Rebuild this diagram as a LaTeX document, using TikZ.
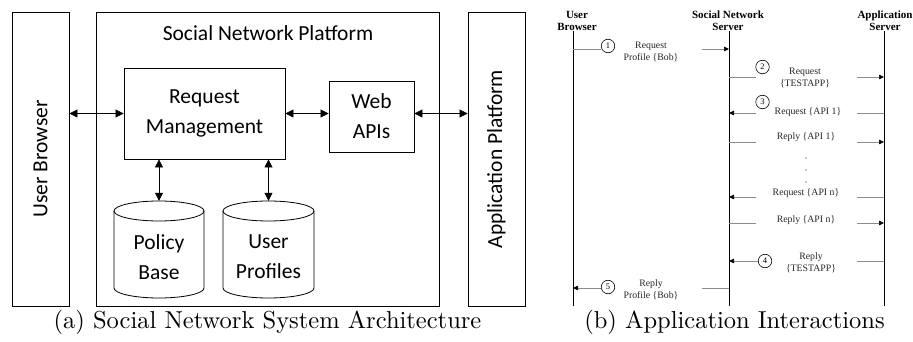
\documentclass[tikz,border=0pt]{standalone}
\usepackage{fontspec}
\usetikzlibrary{arrows.meta}
\newfontfamily\calfont{Carlito}
\newfontfamily\timesfont{Liberation Serif}
\newcommand\cfnt{\calfont\fontsize{21.5}{30}\selectfont}
\newcommand\tmsm{\timesfont\fontsize{9.8}{12}\selectfont}
\newcommand\tmhd{\timesfont\bfseries\fontsize{11}{12}\selectfont}
\newcommand\capt[1]{\scalebox{2.45}{\fontsize{10}{12}\selectfont #1}}
\begin{document}
\begin{tikzpicture}[x=1pt,y=-1pt,
  box/.style={draw, line width=0.8pt, inner sep=0pt},
  dbl/.style={line width=0.6pt, {Triangle[length=8pt,width=8pt]}-{Triangle[length=8pt,width=8pt]}},
  ctext/.style={font=\cfnt, align=center, inner sep=0pt},
  life/.style={line width=0.8pt},
  msg/.style={draw=black!45, line width=0.6pt},
  msgr/.style={msg, -{Triangle[length=5pt,width=4.5pt,fill=black,color=black]}},
  stxt/.style={font=\tmsm, align=center, inner sep=0pt, text=black!85},
  hd/.style={font=\tmhd, align=center, inner sep=0pt},
  num/.style={draw, circle, line width=0.6pt, minimum size=13.5pt, inner sep=0pt, font=\timesfont\fontsize{8.5}{10}\selectfont},
]
\useasboundingbox (0,0) rectangle (913,342);

% ---------------- (a) ----------------
\node[box, minimum width=57, minimum height=294] (ub) at (40.5,159) {};
\node[ctext, rotate=90] (ubt) at (ub) {User Browser};
\node[box, minimum width=343, minimum height=294] (snp) at (267.5,159) {};
\node[ctext] (snpt) at (268,33) {Social Network Platform};
\node[box, minimum width=57, minimum height=294] (ap) at (496.5,159) {};
\node[ctext, rotate=90] (apt) at (ap) {Application Platform};
\node[box, ctext, minimum width=161, minimum height=91] (rm) at (204.5,113.5) {Request\\Management};
\node[box, ctext, minimum width=85, minimum height=71] (web) at (371.5,116.5) {Web\\APIs};

% cylinders
\node[minimum width=90, minimum height=97, inner sep=0pt] (pb) at (159,249.5) {};
\node[minimum width=91, minimum height=97, inner sep=0pt] (up) at (268.5,249.5) {};
\draw[line width=0.8pt] (114,211) -- (114,288) arc[start angle=180, end angle=0, x radius=45, y radius=10] -- (204,211);
\draw[line width=0.8pt] (159,211) ellipse[x radius=45, y radius=10];
\draw[line width=0.8pt] (223,211) -- (223,288) arc[start angle=180, end angle=0, x radius=45.5, y radius=10] -- (314,211);
\draw[line width=0.8pt] (268.5,211) ellipse[x radius=45.5, y radius=10];
\node[ctext] (pbt) at (159,257) {Policy\\Base};
\node[ctext] (upt) at (268.5,257) {User\\Profiles};

\draw[dbl] (ub.east |- rm.west) -- (rm.west);
\draw[dbl] (rm.east) -- (rm.east -| web.west);
\draw[dbl] (web.east |- rm.east) -- (rm.east -| ap.west);
\draw[dbl] (rm.south -| pb.north) -- (pb.north);
\draw[dbl] (rm.south -| up.north) -- (up.north);

\node (capa) at (267.5,322) {\capt{(a) Social Network System Architecture}};

% ---------------- (b) ----------------
\node[hd] (hu) at (577,21) {User\\Browser};
\node[hd] (hs) at (728,21) {Social Network\\Server};
\node[hd] (ha) at (885,21) {Application\\Server};
\coordinate (ue) at (573,306);
\coordinate (se) at (729,306);
\coordinate (ae) at (884,306);
\draw[life] (ue |- hu.south) -- (ue);
\draw[life] (se |- hs.south) -- (se);
\draw[life] (ae |- ha.south) -- (ae);

% message 1
\node[num] (c1) at (608,46) {1};
\node[stxt] (t1) at (651,52) {Request\\Profile \{Bob\}};
\coordinate (m1a) at (702,49);
\draw[msg] (ue |- m1a) -- (ue |- m1a -| c1.west);
\draw[msgr] (m1a) -- (se |- m1a);
% message 2
\node[num] (c2) at (762.5,67) {2};
\node[stxt] (t2) at (805,78) {Request\\\{TESTAPP\}};
\coordinate (m2a) at (756,77);
\coordinate (m2b) at (857,77);
\draw[msg] (se |- m2a) -- (m2a);
\draw[msgr] (m2b) -- (ae |- m2b);
% message 3
\node[num] (c3) at (762.5,102) {3};
\node[stxt] (t3) at (808,112) {Request \{API 1\}};
\coordinate (m3a) at (756,113);
\coordinate (m3b) at (857,113);
\draw[msgr] (m3a) -- (se |- m3a);
\draw[msg] (m3b) -- (ae |- m3b);
% reply api 1
\node[stxt] (t4) at (806,137) {Reply \{API 1\}};
\coordinate (m4a) at (756,142);
\coordinate (m4b) at (857,142);
\draw[msg] (se |- m4a) -- (m4a);
\draw[msgr] (m4b) -- (ae |- m4b);
% dots
\fill (806,158) circle[radius=0.6];
\fill (806,170) circle[radius=0.6];
\fill (806,182) circle[radius=0.6];
% request api n
\node[stxt] (t5) at (806,193) {Request \{API n\}};
\coordinate (m5a) at (756,197);
\coordinate (m5b) at (857,197);
\draw[msgr] (m5a) -- (se |- m5a);
\draw[msg] (m5b) -- (ae |- m5b);
% reply api n
\node[stxt] (t6) at (806,220) {Reply \{API n\}};
\coordinate (m6a) at (756,223);
\coordinate (m6b) at (857,223);
\draw[msg] (se |- m6a) -- (m6a);
\draw[msgr] (m6b) -- (ae |- m6b);
% reply testapp
\node[num] (c4) at (765,261) {4};
\node[stxt] (t7) at (811,263) {Reply\\\{TESTAPP\}};
\coordinate (m7b) at (857,261);
\draw[msgr] (c4.west) -- (se |- c4.west);
\draw[msg] (m7b) -- (ae |- m7b);
% reply profile
\node[num] (c5) at (608,287) {5};
\node[stxt] (t8) at (651,290) {Reply\\Profile \{Bob\}};
\coordinate (m8a) at (601,288);
\coordinate (m8b) at (702,288);
\draw[msgr] (m8a) -- (ue |- m8a);
\draw[msg] (m8b) -- (se |- m8b);

\node (capb) at (734.5,322) {\capt{(b) Application Interactions}};
\end{tikzpicture}
\end{document}
